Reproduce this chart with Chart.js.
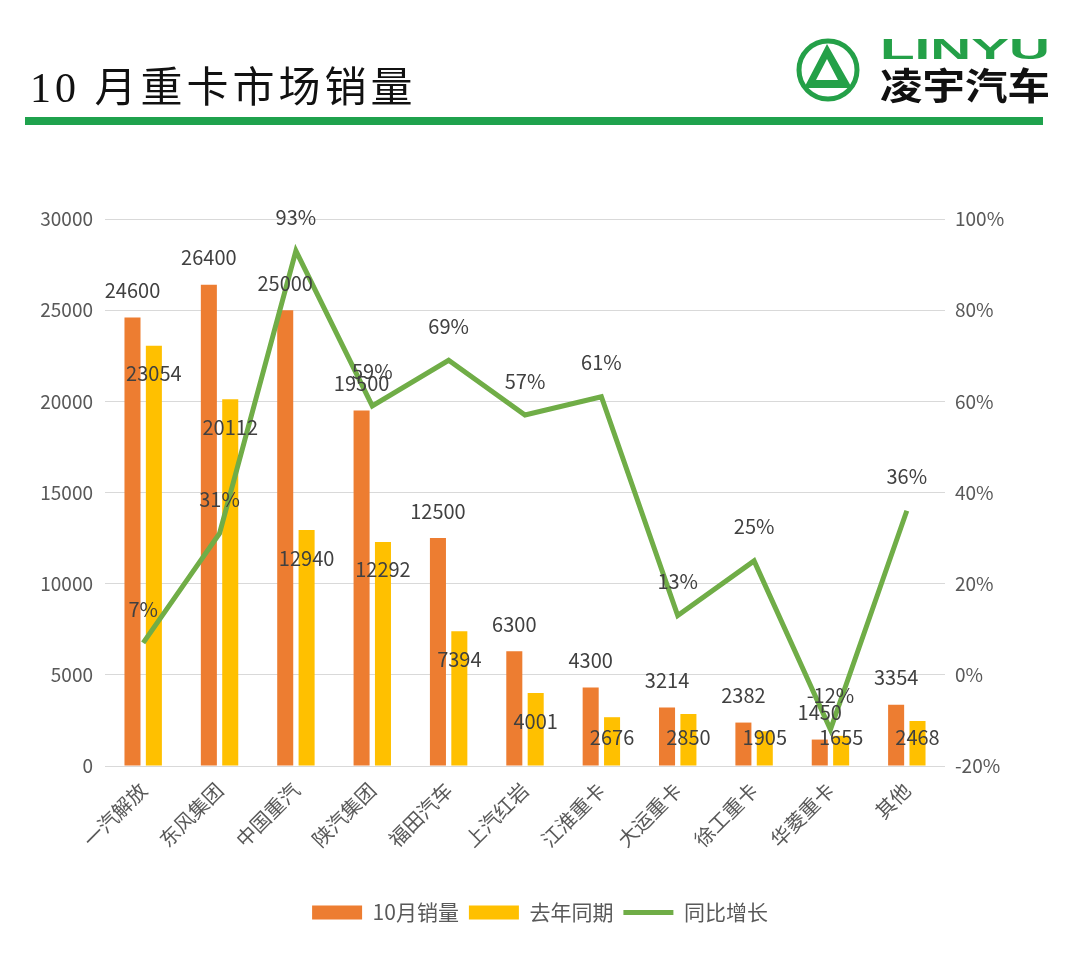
<!DOCTYPE html>
<html>
<head>
<meta charset="utf-8">
<script src="https://cdn.jsdelivr.net/npm/chart.js@4.4.0/dist/chart.umd.min.js"></script>
<style>
  html, body { margin: 0; padding: 0; background: #fff; }
  #wrap { position: relative; width: 1080px; height: 953px; overflow: hidden; }
  #title {
    position: absolute; left: 30px; top: 62px;
    font-family: "Liberation Serif", "Noto Sans CJK SC", serif;
    font-size: 42px; letter-spacing: 4px; color: #111; line-height: 52px; white-space: nowrap;
  }
  #rule { position: absolute; left: 25px; top: 117px; width: 1018px; height: 8px; background: #1fa24d; }
  #logo { position: absolute; left: 780px; top: 20px; }
  #c { position: absolute; left: 0; top: 0; }
</style>
</head>
<body>
<div id="wrap">
  <canvas id="c" width="1080" height="953"></canvas>
  <div id="title">10 月重卡市场销量</div>
  <div id="rule"></div>
  <svg id="logo" width="290" height="100" viewBox="0 0 290 100">
    <circle cx="48" cy="50" r="29" fill="none" stroke="#24a048" stroke-width="5"/>
    <path d="M47 24 L72 68 L24 68 Z M47 39 L36 60 L58 60 Z" fill="#24a048" fill-rule="evenodd"/>
    <text x="100" y="39" textLength="170" lengthAdjust="spacingAndGlyphs"
      font-family="Liberation Sans, Arial, sans-serif" font-weight="bold" font-size="29" fill="#24a048">LINYU</text>
    <text x="100" y="80" textLength="170" lengthAdjust="spacingAndGlyphs"
      font-family="Noto Sans CJK SC" font-weight="bold" font-size="37" fill="#111">凌宇汽车</text>
  </svg>
</div>
<script>
const categories = ['一汽解放', '东风集团', '中国重汽', '陕汽集团', '福田汽车', '上汽红岩', '江淮重卡', '大运重卡', '徐工重卡', '华菱重卡', '其他'];
const salesOct = [24600, 26400, 25000, 19500, 12500, 6300, 4300, 3214, 2382, 1450, 3354];
const salesLastYear = [23054, 20112, 12940, 12292, 7394, 4001, 2676, 2850, 1905, 1655, 2468];
const growthPct = [7, 31, 93, 59, 69, 57, 61, 13, 25, -12, 36];

const FONT = '"Noto Sans CJK SC", "Noto Sans", sans-serif';

// 数据标签
const labelPlugin = {
    id: 'valueLabels',
    afterDatasetsDraw(chart) {
        const ctx = chart.ctx;
        ctx.save();
        ctx.font = '20px ' + FONT;
        ctx.fillStyle = '#404040';
        ctx.textAlign = 'center';
        ctx.textBaseline = 'middle';
        chart.data.datasets.forEach((ds, di) => {
            const meta = chart.getDatasetMeta(di);
            meta.data.forEach((el, i) => {
                const v = ds.data[i];
                let y;
                if (di === 0) y = el.y - 27;
                else if (di === 1) y = Math.min(el.y + 28, el.base - 28);
                else y = el.y - 34;
                ctx.fillText(di === 2 ? v + '%' : String(v), el.x, y);
            });
        });
        ctx.restore();
    }
};

new Chart(document.getElementById('c'), {
    type: 'bar',
    data: {
        labels: categories,
        datasets: [
            { label: '10月销量', data: salesOct, backgroundColor: '#ED7D31', yAxisID: 'y', pointStyle: 'rect',
              categoryPercentage: 0.56, barPercentage: 0.75 },
            { label: '去年同期', data: salesLastYear, backgroundColor: '#FFC000', yAxisID: 'y', pointStyle: 'rect',
              categoryPercentage: 0.56, barPercentage: 0.75 },
            { type: 'line', label: '同比增长', data: growthPct, borderColor: '#70AD47', backgroundColor: '#70AD47',
              borderWidth: 5, pointRadius: 0, tension: 0, yAxisID: 'y1', order: -1, pointStyle: 'line' }
        ]
    },
    options: {
        responsive: false,
        animation: false,
        layout: { padding: { top: 219, left: 0, right: 0, bottom: 20 } },
        scales: {
            x: {
                grid: { display: false },
                border: { display: false },
                ticks: { color: '#595959', font: { size: 20, family: FONT }, minRotation: 45, maxRotation: 45, padding: 4 },
                afterFit: s => { s.height = 126; }
            },
            y: {
                position: 'left', min: 0, max: 30000,
                ticks: { stepSize: 5000, color: '#595959', font: { size: 19, family: FONT }, padding: 12,
                         callback: v => String(v) },
                grid: { color: '#d9d9d9', drawTicks: false },
                border: { display: false },
                afterFit: s => { s.width = 105; }
            },
            y1: {
                position: 'right', min: -20, max: 100,
                ticks: { stepSize: 20, color: '#595959', font: { size: 19, family: FONT }, padding: 10,
                         callback: v => v + '%' },
                grid: { display: false, drawTicks: false },
                border: { display: false },
                afterFit: s => { s.width = 135; }
            }
        },
        plugins: {
            legend: {
                position: 'bottom',
                labels: {
                    usePointStyle: true, pointStyleWidth: 50, boxHeight: 14,
                    color: '#595959', font: { size: 21, family: FONT }, padding: 10,
                    sort: (a, b) => a.datasetIndex - b.datasetIndex
                }
            },
            tooltip: { enabled: false }
        }
    },
    plugins: [labelPlugin]
});
</script>
</body>
</html>
